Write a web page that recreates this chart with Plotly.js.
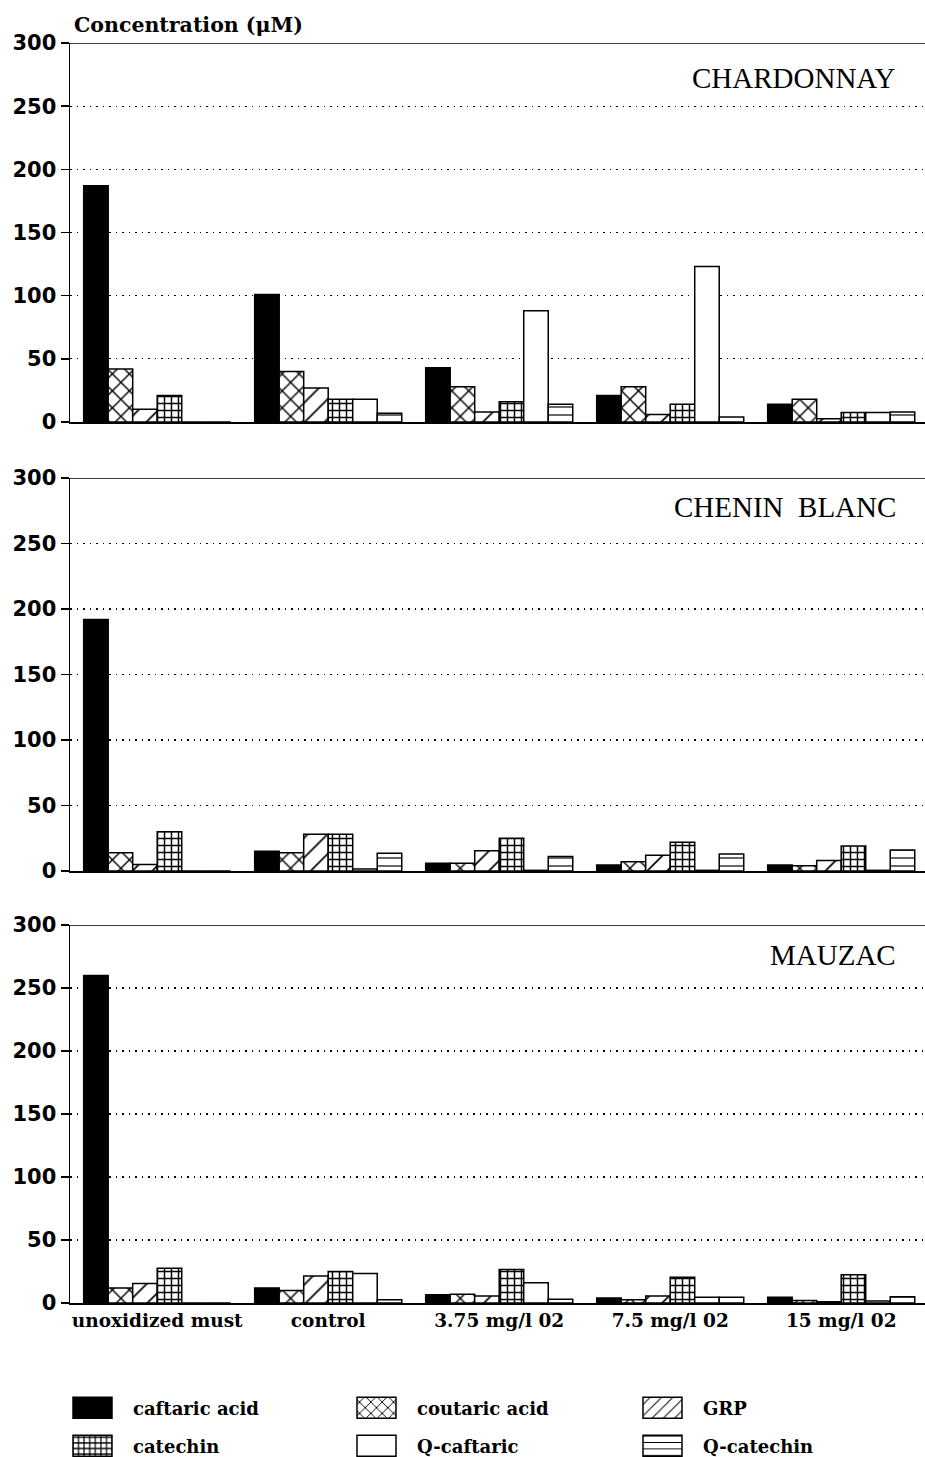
<!DOCTYPE html>
<html><head><meta charset="utf-8">
<script src="https://cdn.plot.ly/plotly-3.0.1.min.js"></script>
<style>html,body{margin:0;padding:0;background:#fff;overflow:hidden}</style>
</head><body><div id="chart" style="width:925px;height:1457px"></div>
<script>
// ---- data ----
const categories = ['unoxidized must', 'control', '3.75 mg/l 02', '7.5 mg/l 02', '15 mg/l 02'];
const seriesNames = ['caftaric acid', 'coutaric acid', 'GRP', 'catechin', 'Q-caftaric', 'Q-catechin'];
const wineNames = ['CHARDONNAY', 'CHENIN  BLANC', 'MAUZAC'];

const chardCaftaric  = [187, 101, 43, 21, 14];
const chardCoutaric  = [42, 40, 28, 28, 18];
const chardGRP       = [10, 27, 8, 6, 2.5];
const chardCatechin  = [21, 18, 16, 14, 7.5];
const chardQCaftaric = [0, 18, 88, 123, 7.5];
const chardQCatechin = [0, 7, 14, 4, 8];

const cheninCaftaric  = [192, 15, 6, 4.5, 4.5];
const cheninCoutaric  = [14, 14, 6, 7, 4];
const cheninGRP       = [5, 28, 15.5, 12, 8];
const cheninCatechin  = [30, 28, 25, 22, 19];
const cheninQCaftaric = [0, 1.5, 0.5, 0.5, 0.5];
const cheninQCatechin = [0, 13.5, 11, 13, 16];

const mauzacCaftaric  = [260, 12, 6.5, 4, 4.5];
const mauzacCoutaric  = [12, 10, 7, 2.5, 2];
const mauzacGRP       = [15.5, 21.5, 5.5, 5.5, 1];
const mauzacCatechin  = [27.5, 25, 26.5, 20.5, 22.5];
const mauzacQCaftaric = [0, 23.5, 16, 4.5, 1.5];
const mauzacQCatechin = [0, 2.5, 3, 4.5, 5];

const yTicks = [0, 50, 100, 150, 200, 250, 300];

// ---- styles ----
const wineData = [
  [chardCaftaric, chardCoutaric, chardGRP, chardCatechin, chardQCaftaric, chardQCatechin],
  [cheninCaftaric, cheninCoutaric, cheninGRP, cheninCatechin, cheninQCaftaric, cheninQCatechin],
  [mauzacCaftaric, mauzacCoutaric, mauzacGRP, mauzacCatechin, mauzacQCaftaric, mauzacQCatechin]
];
const patterns = [
  {color: 'black', shape: '', size: 8, solidity: 0.3},
  {color: 'white', shape: 'x', size: 12, solidity: 0.22},
  {color: 'white', shape: '/', size: 14, solidity: 0.12},
  {color: 'white', shape: '+', size: 7, solidity: 0.38},
  {color: 'white', shape: '', size: 8, solidity: 0.3},
  {color: 'white', shape: '-', size: 8, solidity: 0.15}
];

const W = 925, H = 1457;
const xDomain = [70 / W, 1];
const yDomains = [
  [1 - 422 / H, 1 - 43 / H],
  [1 - 871 / H, 1 - 478 / H],
  [1 - 1303 / H, 1 - 925 / H]
];
// legend text positions (px): column x, row y
const legendTextX = [133, 417, 703];
const legendRowY = [1408, 1446];
const ITEMW = 71;               // symbol area width
const TEXTGAP = ITEMW + 10;     // text offset inside an entry

const traces = [];
wineData.forEach((series, w) => {
  series.forEach((vals, s) => {
    const p = patterns[s];
    traces.push({
      type: 'bar',
      x: categories,
      y: vals,
      name: seriesNames[s],
      xaxis: w === 0 ? 'x' : 'x' + (w + 1),
      yaxis: w === 0 ? 'y' : 'y' + (w + 1),
      legend: s === 0 ? 'legend' : 'legend' + (s + 1),
      legendgroup: seriesNames[s],
      showlegend: w === 0,
      hoverinfo: 'skip',
      marker: {
        color: p.color,
        line: {color: 'black', width: 1.5},
        pattern: {shape: p.shape, size: p.size, solidity: p.solidity,
                  fgcolor: 'black', bgcolor: p.color, fillmode: 'replace'}
      }
    });
  });
});

const tickFont = {family: 'DejaVu Sans', size: 21, weight: 'bold', color: 'black'};
const catFont = {family: 'DejaVu Serif', size: 18.5, weight: 'bold', color: 'black'};
const legFont = {family: 'DejaVu Serif', size: 18, weight: 'bold', color: 'black'};
const layout = {
  width: W, height: H,
  margin: {l: 0, r: 0, t: 0, b: 0, autoexpand: false},
  paper_bgcolor: 'white', plot_bgcolor: 'white',
  barmode: 'group', bargap: 0.14, bargroupgap: 0,
  shapes: [], annotations: []
};
for (let s = 0; s < 6; s++) {
  const key = s === 0 ? 'legend' : 'legend' + (s + 1);
  layout[key] = {
    orientation: 'h', x: (legendTextX[s % 3] - TEXTGAP) / W, xanchor: 'left',
    y: 1 - legendRowY[Math.floor(s / 3)] / H, yanchor: 'middle',
    itemwidth: ITEMW,
    font: legFont, bgcolor: 'rgba(0,0,0,0)'
  };
}

const titleY = [(422 - 78) / 379, (871 - 507) / 393, (1303 - 955) / 378];
for (let w = 0; w < 3; w++) {
  const sfx = w === 0 ? '' : String(w + 1);
  layout['xaxis' + sfx] = {
    domain: xDomain, anchor: 'y' + sfx, type: 'category',
    range: [-0.51, 4.49], fixedrange: true,
    showline: true, linecolor: 'black', linewidth: 1.5,
    ticks: '', showgrid: false, zeroline: false,
    showticklabels: w === 2, tickfont: catFont
  };
  layout['yaxis' + sfx] = {
    domain: yDomains[w], anchor: 'x' + sfx, range: [0, 300],
    tickvals: yTicks, ticktext: yTicks.map(String), fixedrange: true,
    showline: true, linecolor: 'black', linewidth: 1.5,
    ticks: 'outside', ticklen: 8, tickwidth: 1.5, tickcolor: 'black',
    showgrid: true, gridcolor: 'black', gridwidth: 1.2, griddash: '1.5px,5px',
    zeroline: false, tickfont: tickFont
  };
  layout.shapes.push({
    type: 'line', xref: 'x' + sfx + ' domain', yref: 'y' + sfx,
    x0: 0, x1: 1, y0: 300, y1: 300, line: {color: 'black', width: 1.5}
  });
  layout.annotations.push({
    text: wineNames[w], xref: 'x' + sfx + ' domain', yref: 'y' + sfx + ' domain',
    x: (898 - 70) / 855, y: titleY[w], xanchor: 'right', yanchor: 'middle',
    showarrow: false, font: {family: 'Liberation Serif', size: 29, color: 'black'}
  });
}
layout.annotations.push({
  text: 'Concentration (μM)', xref: 'paper', yref: 'paper',
  x: 72 / W, y: 1 - 25 / H, xanchor: 'left', yanchor: 'middle', showarrow: false,
  font: {family: 'DejaVu Serif', size: 20.5, weight: 'bold', color: 'black'}
});

Plotly.newPlot('chart', traces, layout, {staticPlot: true, displayModeBar: false}).then(gd => {
  // enlarge the legend swatches to the wide boxes of the original figure
  gd.querySelectorAll('.legendpoints path').forEach(p => {
    p.setAttribute('d', 'M19.5,10.5H-19.5V-10.5H19.5Z');
  });
});
</script></body></html>
